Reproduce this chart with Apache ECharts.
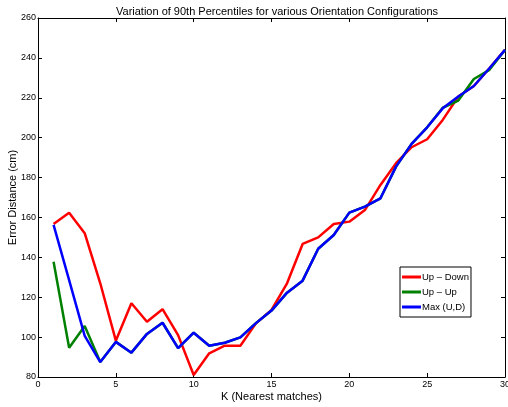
<!DOCTYPE html>
<html><head><meta charset="utf-8">
<script src="https://cdn.jsdelivr.net/npm/echarts@6/dist/echarts.min.js"></script>
<style>html,body{margin:0;padding:0;background:#fff}#c{width:508px;height:407px}</style>
</head><body><div id="c"></div>
<script>
const kValues = [1,2,3,4,5,6,7,8,9,10,11,12,13,14,15,16,17,18,19,20,21,22,23,24,25,26,27,28,29,30];
const upDown = [156.7,162.4,152.1,127,98.2,117,107.7,114,101,81,91.9,95.7,95.7,106.9,113.6,127,146.7,150,156.7,157.9,163.7,176.3,187.2,195.2,199.2,208.9,220.6,225.9,234.8,244];
const upUp = [137.8,94.7,105.6,87.5,97.6,92.2,101.6,107.2,94.5,102.2,95.7,97.2,99.9,107,113.3,122.3,128.3,144.3,151.2,162.4,165.4,169.6,185.5,196.9,205.2,215,218.6,229.4,234,244];
const maxUD = [156.3,128.6,100.6,87.5,97.6,92.2,101.6,107.2,94.5,102.2,95.7,97.2,99.9,107,113.3,122.3,128.3,144.3,151.2,162.4,165.4,169.6,185.5,196.9,205.2,214.7,220.6,225.9,234.8,244];
const seriesNames = ['Up \u2013 Down','Up \u2013 Up','Max (U,D)'];
const seriesColors = ['#ff0000','#008000','#0000ff'];
const titleText = 'Variation of 90th Percentiles for various Orientation Configurations';
const xName = 'K (Nearest matches)';
const yName = 'Error Distance (cm)';

const pairs = a => a.map((v,i)=>[kValues[i],v]);
const font = 'Liberation Sans, Arial, sans-serif';
const chart = echarts.init(document.getElementById('c'), null, {renderer:'canvas'});
const axisCommon = {
  axisLine:{show:true,onZero:false,lineStyle:{color:'#000',width:1}},
  axisTick:{show:true,inside:true,length:4,lineStyle:{color:'#000'}},
  splitLine:{show:false}
};
chart.setOption({
  animation:false,
  backgroundColor:'#fff',
  title:{text:titleText,left:272,top:1,textAlign:'center',
    textStyle:{fontFamily:font,fontSize:11,fontWeight:'normal',color:'#000'}},
  grid:{left:38,right:3,top:18,bottom:30,containLabel:false,outerBoundsMode:'none'},
  legend:{orient:'vertical',left:400,top:267,
    backgroundColor:'#fff',borderColor:'#000',borderWidth:1,padding:[5,2,5,2],
    itemWidth:19,itemHeight:3,itemGap:5,icon:'rect',
    textStyle:{fontFamily:font,fontSize:9.5,color:'#000',padding:[0,0,0,-4]},
    data:seriesNames},
  xAxis:[
    Object.assign({type:'value',min:0,max:30,interval:5,position:'bottom',
      name:xName,nameLocation:'middle',nameGap:14,nameMoveOverlap:false,
      nameTextStyle:{fontFamily:font,fontSize:11,color:'#000'},
      axisLabel:{fontFamily:font,fontSize:9,color:'#000',margin:3}},axisCommon),
    Object.assign({type:'value',min:0,max:30,interval:5,position:'top',
      axisLabel:{show:false}},axisCommon)
  ],
  yAxis:[
    Object.assign({type:'value',min:80,max:260,interval:20,position:'left',
      name:yName,nameLocation:'middle',nameGap:20,nameMoveOverlap:false,
      nameTextStyle:{fontFamily:font,fontSize:11,color:'#000'},
      axisLabel:{fontFamily:font,fontSize:9,color:'#000',margin:2}},axisCommon),
    Object.assign({type:'value',min:80,max:260,interval:20,position:'right',
      axisLabel:{show:false}},axisCommon)
  ],
  series:[upDown,upUp,maxUD].map((d,i)=>({
    name:seriesNames[i],type:'line',data:pairs(d),showSymbol:false,symbol:'none',
    lineStyle:{color:seriesColors[i],width:2.5},itemStyle:{color:seriesColors[i]},
    z:2+i
  }))
});
</script></body></html>
